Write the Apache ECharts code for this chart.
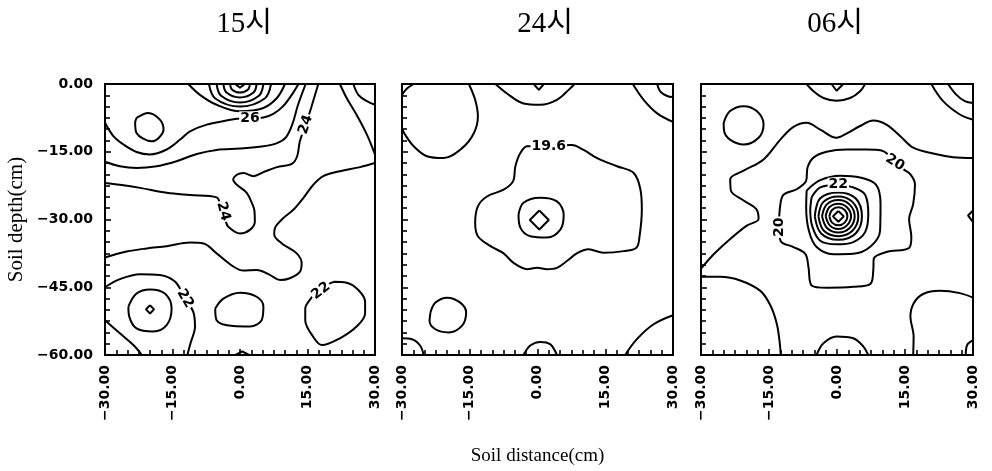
<!DOCTYPE html>
<html><head><meta charset="utf-8">
<script src="https://cdn.jsdelivr.net/npm/echarts@6/dist/echarts.min.js"></script>
<style>html,body{margin:0;padding:0;background:#fff}#c{width:992px;height:471px}</style>
</head><body><div id="c"></div>
<script>
// ---------- data ----------
const panelTitles = ['15시', '24시', '06시'];
const xTicks = [-30, -15, 0, 15, 30];
const yTicks = [-60, -45, -30, -15, 0];
const xName = 'Soil distance(cm)';
const yName = 'Soil depth(cm)';

// Panel 1 (15시) contour polylines: [distance, depth]
const p1_ring1 = [[-1.1,0],[0,-0.8],[1.1,0]];
const p1_ring2 = [[-2.2,0],[-1.8,-1.2],[0,-1.9],[1.8,-1.2],[2.2,0]];
const p1_ring3 = [[-3.7,0],[-3.0,-1.9],[0,-3.0],[3.0,-1.9],[3.7,0]];
const p1_ring4 = [[-5.2,0],[-4.2,-2.6],[0,-4.1],[4.2,-2.6],[5.2,0]];
const p1_ring5 = [[-6.9,0],[-5.5,-3.2],[0,-5.0],[5.5,-3.2],[6.9,0]];
const p1_ring6 = [[-11.5,0],[-8.9,-2.4],[-5.2,-4.6],[0,-6.05],[5.2,-5.3],[8.2,-3.1],[10,0]];
const p1_c26 = [[-30,-8.6],[-28.1,-11.6],[-25.9,-13.4],[-23.0,-15.05],[-20.0,-15.6],[-16.3,-14.5],[-13.3,-12.3],[-11.1,-10.5],[-7.4,-9.0],[-3.0,-8.1],[-0.7,-7.7],[2.2,-7.6],[5.2,-7.4],[7.4,-6.6],[9.6,-4.9],[11.5,-2.4],[13.0,0]];
const p1_loopNW = [[-23.0,-7.5],[-20.4,-6.4],[-17.8,-7.9],[-17.0,-10.1],[-19.6,-12.7],[-23.0,-10.85],[-23.3,-8.6],[-23.0,-7.5]];
const p1_c25 = [[-30,-17.2],[-26.7,-18.2],[-23.0,-18.6],[-18.5,-18.2],[-14.1,-17.1],[-9.6,-15.5],[-5.2,-14.6],[0,-14.3],[5.2,-13.8],[8.2,-13.1],[10.2,-11.8],[11.6,-9.0],[12.9,-4.6],[14.6,0]];
const p1_c24 = [[-30,-21.9],[-26.7,-22.3],[-22.2,-23.0],[-16.3,-24.1],[-11.1,-24.6],[-5.2,-25.1],[-4.4,-26.5],[-3.7,-28.2],[-3.2,-30.3],[-2.6,-31.6],[0,-33.1],[2.2,-32.3],[3.3,-30.5],[3.2,-28.0],[2.8,-26.7],[1.5,-24.1],[-0.7,-22.3],[-1.5,-21.2],[-0.7,-20.1],[0.75,-19.7],[3.0,-20.4],[5.2,-19.5],[8.2,-18.4],[11.5,-17.7],[12.7,-16.0],[13.3,-12.7],[14.6,-9.0],[15.8,-5.3],[17.4,0]];
const p1_c23 = [[30,-17.5],[26.7,-18.4],[22.2,-19.3],[18.5,-20.4],[16.3,-22.3],[14.1,-25.2],[11.9,-27.8],[9.6,-29.7],[7.8,-31.8],[7.6,-33.3],[9.3,-35.3],[12.6,-37.5],[13.7,-39.7],[13.3,-41.6],[11.1,-43.0],[8.9,-43.4],[6.7,-42.3],[3.7,-41.2],[0.75,-41.3],[-1.5,-40.4],[-5.2,-37.5],[-8.1,-35.3],[-11.1,-35.1],[-16.3,-35.9],[-20.7,-36.4],[-25.2,-37.1],[-30,-38.4]];
const p1_edgeNE1 = [[22.2,0],[23.7,-3.1],[25.9,-6.8],[28.2,-11.2],[30,-15.6]];
const p1_edgeNE2 = [[25.2,0],[26.3,-2.4],[28.2,-3.8],[30,-4.6]];
const p1_c22L = [[-30,-45.0],[-26.7,-43.2],[-22.2,-42.1],[-17.8,-42.3],[-14.4,-43.8],[-12.2,-47.5],[-10.4,-50.4],[-10.0,-53.7],[-11.0,-57.4],[-11.7,-60]];
const p1_ringSW = [[-24.8,-49.3],[-23.0,-46.4],[-20.0,-45.5],[-16.7,-46.4],[-15.2,-49.7],[-16.3,-53.4],[-19.3,-54.8],[-23.0,-54.1],[-24.6,-51.5],[-24.8,-49.3]];
const p1_diamSW = [[-20,-49.0],[-19.1,-49.9],[-20,-50.8],[-20.9,-49.9],[-20,-49.0]];
const p1_cornerSW = [[-30,-52.3],[-26.7,-55.2],[-23.7,-57.8],[-21.8,-60]];
const p1_ovalS = [[-5.5,-49.7],[-3.7,-47.5],[0,-46.2],[3.7,-47.1],[5.2,-49.3],[4.8,-52.3],[2.2,-53.7],[-1.5,-53.6],[-5.2,-52.3],[-5.5,-49.7]];
const p1_c22R = [[20.8,-43.8],[23.7,-44.0],[26.3,-45.6],[27.8,-48.2],[27.8,-50.8],[25.9,-53.7],[22.2,-56.3],[18.2,-57.8],[16.3,-56.0],[14.5,-52.3],[14.5,-49.7],[15.6,-47.7],[17.5,-45.5],[20.8,-43.8]];
const p1_bumpS = [[-1,-60],[0.5,-59.2],[2,-60]];
const p1Curves = [p1_ring2,p1_ring3,p1_ring4,p1_ring5,p1_ring6,p1_c26,p1_loopNW,p1_c25,p1_c24,p1_c23,p1_edgeNE1,p1_edgeNE2,p1_c22L,p1_ringSW,p1_cornerSW,p1_ovalS,p1_c22R];
const p1Straight = [p1_ring1,p1_diamSW,p1_bumpS];
const p1Labels = [[2.2,-7.6,'26',0],[14.6,-9.0,'24',72],[-3.7,-28.2,'24',-75],[-12.2,-47.5,'22',-60],[18.0,-45.8,'22',38]];

// Panel 2 (24시)
const p2_cornerNW = [[-30,-2.4],[-28.9,-1.0],[-27.4,0]];
const p2_arcNW = [[-15.2,0],[-13.8,-3.5],[-13.2,-7.2],[-14.1,-10.9],[-16.7,-14.2],[-20.8,-16.4],[-24.5,-16.0],[-27.4,-13.8],[-29.3,-11.25],[-30,-9.8]];
const p2_arcN = [[-9.3,0],[-6.75,-2.1],[-3.1,-4.3],[0.6,-4.6],[4.3,-3.5],[6.9,-1.3],[8.2,0]];
const p2_vN = [[-0.85,0],[0.3,-1.3],[1.4,0]];
const p2_arcNE = [[21.1,0],[23.5,-3.5],[26.5,-6.5],[30,-8.4]];
const p2_cornerNE = [[26.5,0],[27.2,-1.7],[28.7,-2.65],[30,-2.9]];
const p2_c196 = [[2.5,-13.8],[7.6,-13.5],[10.2,-14.6],[13.2,-16.4],[17.6,-18.2],[21.3,-19.7],[22.8,-23.4],[23.1,-27.8],[22.6,-33.7],[21.9,-36.25],[19.1,-37.0],[14.6,-37.35],[11.3,-36.6],[8.7,-37.5],[6.5,-39.2],[4.3,-40.7],[2.1,-41.0],[-0.1,-40.7],[-2.3,-41.0],[-5.3,-39.6],[-7.5,-37.5],[-10.4,-35.9],[-13.2,-33.7],[-13.8,-30.7],[-13.2,-27.1],[-11.2,-24.9],[-7.5,-23.4],[-5.4,-21.5],[-4.9,-18.2],[-3.8,-15.3],[-2.3,-13.8],[2.5,-13.8]];
const p2_ringC = [[-4.2,-28.9],[-3.1,-26.3],[0.6,-25.2],[4.3,-26.0],[5.8,-28.9],[5.1,-32.2],[2.1,-34.0],[-1.6,-33.7],[-3.8,-31.8],[-4.2,-28.9]];
const p2_diamC = [[0.4,-28.0],[2.5,-30.1],[0.4,-32.2],[-1.7,-30.1],[0.4,-28.0]];
const p2_circleSW = [[-23.7,-50.6],[-22.6,-48.4],[-20.0,-47.3],[-17.1,-48.4],[-15.8,-50.6],[-16.7,-53.5],[-19.7,-55.0],[-22.6,-54.3],[-23.9,-52.4],[-23.7,-50.6]];
const p2_cornerSW = [[-30,-56.3],[-27.8,-56.5],[-26.0,-57.9],[-25.2,-60]];
const p2_arcS = [[-3.1,-60],[-1.6,-57.9],[0.6,-57.1],[2.8,-57.6],[4.3,-60]];
const p2_arcSE = [[19.4,-60],[22.0,-56.5],[25.7,-53.2],[30,-51.2]];
const p2Curves = [p2_cornerNW,p2_arcNW,p2_arcN,p2_arcNE,p2_cornerNE,p2_c196,p2_ringC,p2_circleSW,p2_cornerSW,p2_arcS,p2_arcSE];
const p2Straight = [p2_vN,p2_diamC];
const p2Labels = [[2.5,-13.8,'19.6',0]];

// Panel 3 (06시)
const p3_arcN = [[-6.7,0],[-5.2,-1.6],[-3.0,-3.1],[-0.1,-3.7],[2.9,-3.1],[5.1,-1.6],[6.2,0]];
const p3_vN = [[-1.2,0],[-0.1,-1.5],[1.4,0]];
const p3_arcNE = [[20.8,0],[23.4,-3.8],[27.1,-6.75],[30,-7.9]];
const p3_cornerNE = [[24.5,0],[26.3,-2.35],[28.2,-3.8],[30,-4.2]];
const p3_circleNW = [[-25.0,-8.6],[-23.6,-6.0],[-20.6,-4.9],[-17.7,-6.0],[-16.2,-8.95],[-17.3,-11.9],[-20.6,-13.4],[-23.6,-12.3],[-24.9,-10.4],[-25.0,-8.6]];
const p3_c19 = [[-30,-40.9],[-27.2,-37.7],[-23.55,-34.3],[-19.9,-31.35],[-17.3,-29.9],[-17.8,-27.7],[-20.6,-25.8],[-23.4,-23.6],[-23.55,-21.1],[-20.6,-19.2],[-16.2,-16.7],[-12.5,-12.3],[-9.6,-9.5],[-6.7,-8.6],[-3.7,-10.1],[-0.1,-11.9],[2.1,-11.0],[5.1,-9.3],[8.0,-8.1],[10.9,-9.0],[13.9,-11.5],[16.8,-14.1],[21.2,-15.4],[25.6,-16.2],[30,-16.4]];
const p3_cornerSW = [[-30,-42.7],[-25.75,-42.7],[-21.35,-43.5],[-16.9,-45.8],[-14.7,-49.0],[-13.3,-53.0],[-12.7,-56.7],[-12.4,-60]];
const p3_arcS = [[-4.5,-60],[-3.0,-57.4],[-0.1,-55.9],[3.6,-56.3],[5.8,-58.1],[6.9,-60]];
const p3_arcSE = [[16.8,-60],[16.9,-55.9],[16.2,-51.5],[16.9,-48.6],[19.0,-46.5],[22.7,-45.8],[27.1,-46.3],[30,-47.3]];
const p3_cornerSE = [[28.4,-60],[28.7,-57.8],[30,-56.7]];
const p3_bumpE = [[30,-28.0],[28.9,-29.1],[30,-30.6]];
const p3_c20 = [[12.8,-17.4],[9.8,-14.7],[6.5,-14.5],[2.1,-14.5],[-2.3,-15.0],[-5.2,-16.3],[-6.5,-18.5],[-6.8,-21.4],[-8.9,-23.3],[-11.8,-24.5],[-12.5,-26.7],[-12.8,-31.7],[-12.4,-34.8],[-9.6,-36.1],[-7.0,-37.6],[-6.3,-40.5],[-5.6,-44.6],[-2.3,-45.1],[3.6,-44.9],[7.4,-44.2],[8.0,-41.3],[8.1,-38.7],[10.9,-37.2],[15.9,-36.3],[16.4,-33.9],[15.9,-29.9],[16.8,-26.6],[17.2,-22.2],[16.2,-20.0],[14.7,-18.9],[12.8,-17.4]];
const p3_c21 = [[-6.7,-23.6],[-3.7,-21.3],[0.7,-20.3],[5.1,-20.7],[8.6,-22.3],[9.6,-26.6],[9.5,-32.5],[7.4,-36.0],[3.6,-37.6],[-0.8,-37.7],[-4.5,-36.1],[-6.2,-32.5],[-6.8,-27.3],[-6.7,-23.6]];
const p3_c22 = [[-5.6,-25.1],[-3.7,-22.9],[0.3,-22.3],[3.6,-22.9],[6.2,-24.5],[6.9,-28.8],[6.2,-32.8],[3.6,-35.0],[-0.1,-35.5],[-3.7,-34.7],[-5.4,-31.7],[-5.9,-28.0],[-5.6,-25.1]];
const p3_c23 = [[-4.9,-29.3],[-3.7,-25.3],[0.3,-24.0],[4.1,-25.3],[5.5,-29.3],[4.1,-33.1],[0.3,-34.5],[-3.5,-33.1],[-4.9,-29.3]];
const p3_c24 = [[-4.1,-29.3],[-3.0,-26.1],[0.3,-24.9],[3.4,-26.1],[4.7,-29.3],[3.4,-32.5],[0.3,-33.7],[-2.9,-32.5],[-4.1,-29.3]];
const p3_c25 = [[-3.3,-29.3],[-2.3,-26.7],[0.3,-25.7],[2.8,-26.7],[3.9,-29.3],[2.8,-31.9],[0.3,-32.9],[-2.2,-31.9],[-3.3,-29.3]];
const p3_c26 = [[-2.5,-29.3],[-1.7,-27.3],[0.3,-26.5],[2.2,-27.3],[3.1,-29.3],[2.2,-31.3],[0.3,-32.1],[-1.6,-31.3],[-2.5,-29.3]];
const p3_c27 = [[-1.7,-29.3],[-1.1,-27.9],[0.3,-27.3],[1.7,-27.9],[2.3,-29.3],[1.7,-30.7],[0.3,-31.3],[-1.1,-30.7],[-1.7,-29.3]];
const p3_c28 = [[0.3,-28.1],[1.5,-29.3],[0.3,-30.5],[-0.9,-29.3],[0.3,-28.1]];
const p3Curves = [p3_arcN,p3_arcNE,p3_cornerNE,p3_circleNW,p3_c19,p3_cornerSW,p3_arcS,p3_arcSE,p3_cornerSE,p3_c20,p3_c21,p3_c22,p3_c23,p3_c24,p3_c25,p3_c26,p3_c27];
const p3Straight = [p3_vN,p3_bumpE,p3_c28];
const p3Labels = [[12.8,-17.4,'20',-32],[-12.8,-31.7,'20',90],[0.3,-22.3,'22',0]];

// ---------- chart ----------
const grids = [
  {left:105, top:84, width:270, height:271},
  {left:402, top:84, width:271, height:271},
  {left:701, top:84, width:272, height:271}
];
const titleCenters = [239, 540, 830];
const panels = [
  {curves:p1Curves, straight:p1Straight, labels:p1Labels},
  {curves:p2Curves, straight:p2Straight, labels:p2Labels},
  {curves:p3Curves, straight:p3Straight, labels:p3Labels}
];
const fmt = v => (v < 0 ? '\u2212' : '') + Math.abs(v).toFixed(2);
const tickFont = {fontFamily:'DejaVu Sans', fontWeight:'bold', fontSize:14, color:'#000'};

const xAxes = grids.map((g,i) => ({
  type:'value', gridIndex:i, min:xTicks[0], max:xTicks[xTicks.length-1], interval:xTicks[1]-xTicks[0],
  axisLine:{show:true, onZero:false, lineStyle:{color:'#000', width:2}},
  axisTick:{show:true, inside:true, length:6, lineStyle:{color:'#000', width:1.6}},
  minorTick:{show:true, splitNumber:6, length:5, lineStyle:{color:'#000', width:1.6}},
  splitLine:{show:false}, minorSplitLine:{show:false},
  axisLabel:Object.assign({rotate:90, margin:10, formatter:fmt}, tickFont),
  name: i === 1 ? xName : '', nameLocation:'middle', nameGap:92,
  nameTextStyle:{fontFamily:'Liberation Serif', fontSize:19, color:'#000'}
}));
const yAxes = grids.map((g,i) => ({
  type:'value', gridIndex:i, min:yTicks[0], max:yTicks[yTicks.length-1], interval:yTicks[1]-yTicks[0],
  axisLine:{show:true, onZero:false, lineStyle:{color:'#000', width:2}},
  axisTick:{show:true, inside:true, length:6, lineStyle:{color:'#000', width:1.6}},
  minorTick:{show:true, splitNumber:6, length:5, lineStyle:{color:'#000', width:1.6}},
  splitLine:{show:false}, minorSplitLine:{show:false},
  axisLabel:Object.assign({show:i===0, margin:12, formatter:fmt}, tickFont),
  name: i === 0 ? yName : '', nameLocation:'middle', nameGap:78, nameRotate:90,
  nameTextStyle:{fontFamily:'Liberation Serif', fontSize:21, color:'#000'}
}));

const series = [];
panels.forEach((p,i) => {
  p.curves.forEach(c => series.push({
    type:'line', xAxisIndex:i, yAxisIndex:i, data:c, smooth:0.35, symbol:'none',
    lineStyle:{color:'#000', width:2}, silent:true, clip:true, z:3
  }));
  p.straight.forEach(c => series.push({
    type:'line', xAxisIndex:i, yAxisIndex:i, data:c, smooth:false, symbol:'none',
    lineStyle:{color:'#000', width:2}, silent:true, clip:true, z:3
  }));
  series.push({
    type:'scatter', xAxisIndex:i, yAxisIndex:i, symbolSize:1, itemStyle:{color:'#fff', opacity:1}, z:5,
    data:p.labels.map(l => ({value:[l[0],l[1]], name:l[2], label:{rotate:l[3]}})),
    label:{show:true, position:'inside', formatter:d => d.name, fontFamily:'DejaVu Sans', fontWeight:'bold',
           fontSize:14, color:'#000', opacity:1, textBorderWidth:0, backgroundColor:'#fff', padding:[0,1]}
  });
});

const chart = echarts.init(document.getElementById('c'));
chart.setOption({
  animation:false,
  backgroundColor:'#fff',
  title: panelTitles.map((t,i) => ({
    text:t, left:titleCenters[i], top:5, textAlign:'center',
    textStyle:{fontFamily:"'Liberation Serif','Noto Sans CJK KR'", fontWeight:'normal', fontSize:29, color:'#000'}
  })),
  grid: grids.map(g => Object.assign({show:true, borderColor:'#000', borderWidth:2, backgroundColor:'transparent'}, g)),
  xAxis:xAxes, yAxis:yAxes, series:series
});
</script></body></html>
